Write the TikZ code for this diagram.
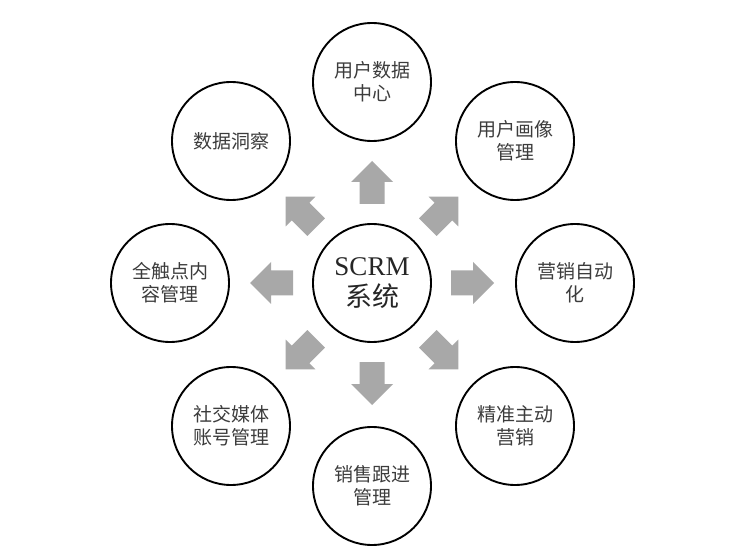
\documentclass[tikz,border=0pt]{standalone}
\usepackage{fontspec}
\setmainfont{Liberation Serif}
\newfontfamily\cjk{Noto Sans CJK SC}
\definecolor{arrowgray}{HTML}{A8A8A8}
\definecolor{txtgray}{HTML}{3C3C3C}
\begin{document}
\begin{tikzpicture}[x=1pt,y=-1pt,
  bubble/.style={circle,draw=black,line width=1.9pt,minimum size=118pt,inner sep=0pt,
    align=center,text=txtgray,font=\cjk\fontsize{19}{23}\selectfont},
  hubbox/.style={bubble,text=black!85,font=\rmfamily\fontsize{27}{31}\selectfont},
  blockarrow/.style={fill=arrowgray,draw=none}]
\useasboundingbox[fill=white] (0,0) rectangle (753,548);
\node[hubbox] (hub) at (372,283) {SCRM\\{\cjk 系统}};
\node[bubble] (top) at (372,82) {用户数据\\中心};
\node[bubble] (tl) at (231,141) {数据洞察};
\node[bubble] (tr) at (515,141) {用户画像\\管理};
\node[bubble] (lf) at (170,283) {全触点内\\容管理};
\node[bubble] (rt) at (575,283) {营销自动\\化};
\node[bubble] (bl) at (231,426) {社交媒体\\账号管理};
\node[bubble] (br) at (515,426) {精准主动\\营销};
\node[bubble] (bt) at (372,486) {销售跟进\\管理};
\foreach \a in {0,45,...,315}{
  \begin{scope}[shift={(hub.center)},rotate=\a]
    \fill[blockarrow] (79,-12.5) -- (101,-12.5) -- (101,-21) -- (122,0)
      -- (101,21) -- (101,12.5) -- (79,12.5) -- cycle;
  \end{scope}
}
\end{tikzpicture}
\end{document}
